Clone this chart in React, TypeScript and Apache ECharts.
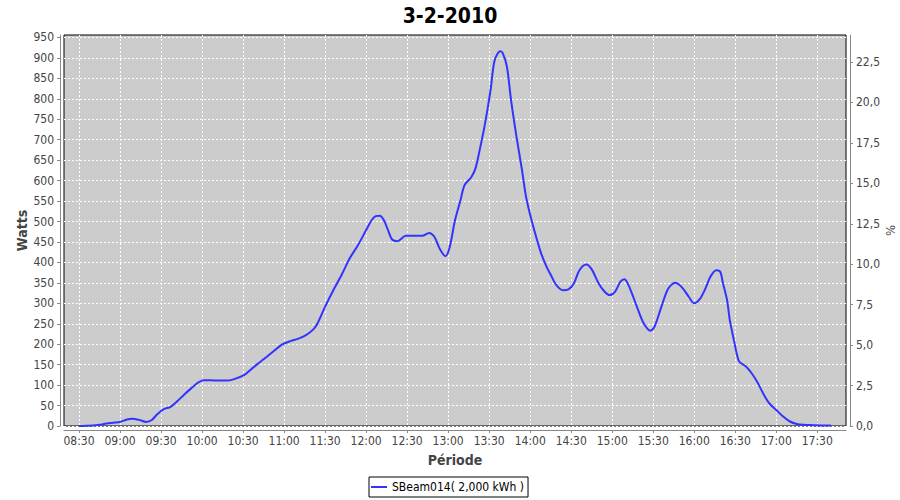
import React, { useEffect, useRef } from 'react';
import * as echarts from 'echarts';

// Time of each reading (HH:MM) and power in watts
const times: string[] = [
  '08:30', '08:35', '08:40', '08:45', '08:50', '08:55', '09:00', '09:05', '09:09', '09:14',
  '09:19', '09:23', '09:27', '09:32', '09:37', '09:42', '09:47', '09:52', '09:57', '10:01',
  '10:06', '10:12', '10:18', '10:23', '10:31', '10:36', '10:40', '10:45', '10:52', '10:59',
  '11:05', '11:10', '11:16', '11:21', '11:24', '11:30', '11:36', '11:42', '11:48', '11:54',
  '12:00', '12:04', '12:07', '12:10', '12:13', '12:16', '12:19', '12:23', '12:29', '12:35',
  '12:41', '12:46', '12:50', '12:54', '12:58', '13:01', '13:05', '13:09', '13:12', '13:17',
  '13:20', '13:23', '13:27', '13:31', '13:34', '13:38', '13:40', '13:43', '13:46', '13:50',
  '13:54', '13:57', '14:01', '14:05', '14:08', '14:12', '14:15', '14:19', '14:24', '14:28',
  '14:32', '14:36', '14:41', '14:45', '14:50', '14:54', '14:58', '15:02', '15:06', '15:09',
  '15:13', '15:18', '15:23', '15:28', '15:31', '15:36', '15:41', '15:46', '15:51', '15:56',
  '16:00', '16:04', '16:08', '16:12', '16:16', '16:19', '16:21', '16:24', '16:26', '16:29',
  '16:31', '16:33', '16:38', '16:42', '16:46', '16:51', '16:55', '17:00', '17:05', '17:10',
  '17:15', '17:20', '17:27', '17:35', '17:40',
];
const watts: number[] = [
  0, 0.5, 1, 3, 6, 8, 10, 16, 18, 15,
  10, 14, 28, 41, 47, 61, 77, 92, 106, 112,
  112, 111, 111, 114, 125, 139, 150, 163, 182, 200,
  208, 213, 222, 235, 248, 292, 332, 369, 410, 442,
  479, 503, 513, 514, 503, 479, 456, 452, 465, 465,
  465, 472, 462, 432, 415, 436, 503, 552, 589, 609,
  630, 674, 740, 821, 894, 916, 911, 878, 797, 707,
  626, 560, 503, 455, 422, 389, 370, 345, 332, 334,
  349, 381, 395, 383, 349, 330, 320, 328, 353, 359,
  336, 292, 251, 233, 243, 292, 336, 350, 339, 316,
  300, 310, 335, 366, 381, 377, 349, 308, 259, 210,
  178, 157, 145, 129, 108, 76, 55, 39, 23, 11,
  5, 3, 2, 1, 1,
];

const timeTicks: string[] = [
  '08:30', '09:00', '09:30', '10:00', '10:30', '11:00', '11:30', '12:00', '12:30', '13:00',
  '13:30', '14:00', '14:30', '15:00', '15:30', '16:00', '16:30', '17:00', '17:30',
];
const wattTicks: number[] = [
  0, 50, 100, 150, 200, 250, 300, 350, 400, 450, 500, 550, 600, 650, 700, 750, 800, 850, 900, 950,
];
const pctTicks: number[] = [0, 2.5, 5, 7.5, 10, 12.5, 15, 17.5, 20, 22.5];

const TITLE = '3-2-2010';
const SERIES_NAME = 'SBeam014( 2,000 kWh )';
const X_MIN = '08:19';
const X_MAX = '17:51';
const WATT_MAX = 956;
const WATTS_PER_PCT = 39.56;

const toMin = (s: string) => {
  const [h, m] = s.split(':').map(Number);
  return h * 60 + m;
};
const fmtMin = (v: number) => {
  const h = Math.floor(v / 60);
  const m = Math.round(v - h * 60);
  return String(h).padStart(2, '0') + ':' + String(m).padStart(2, '0');
};

const FONT = '"DejaVu Sans Condensed", "DejaVu Sans", sans-serif';

export default function App() {
  const ref = useRef<HTMLDivElement>(null);
  useEffect(() => {
    if (!ref.current) return;
    const chart = echarts.init(ref.current, undefined, { renderer: 'svg' });
    const xTickVals = timeTicks.map(toMin);
    const gridDash = { color: '#ffffff', width: 1, type: [2, 2] as any };
    const axisGrey = '#888888';
    chart.setOption({
      animation: false,
      backgroundColor: '#ffffff',
      title: {
        text: TITLE,
        left: 'center',
        top: 0,
        textStyle: { fontFamily: FONT, fontWeight: 'bold', fontSize: 21, color: '#000' },
      },
      grid: {
        left: 64, right: 54, top: 35, bottom: 74,
        show: true, backgroundColor: '#cccccc', borderColor: '#000', borderWidth: 1,
        containLabel: false, outerBoundsMode: 'none',
      },
      legend: {
        left: 369, top: 477,
        padding: [4, 4, 4, 2],
        itemWidth: 16, itemHeight: 2, icon: 'rect',
        borderColor: '#000', borderWidth: 1, backgroundColor: '#fff',
        textStyle: { fontFamily: FONT, fontSize: 12, color: '#000' },
        data: [SERIES_NAME],
      },
      xAxis: {
        type: 'value',
        min: toMin(X_MIN), max: toMin(X_MAX),
        offset: 4,
        name: 'Période', nameLocation: 'middle', nameGap: 23, nameMoveOverlap: false,
        nameTextStyle: { fontFamily: FONT, fontWeight: 'bold', fontSize: 14, color: '#444' },
        axisLine: { show: true, onZero: false, lineStyle: { color: axisGrey } },
        axisTick: { show: true, length: 3, customValues: xTickVals, lineStyle: { color: axisGrey } },
        axisLabel: {
          customValues: xTickVals, formatter: (v: number) => fmtMin(v), margin: 5,
          color: '#444', fontFamily: FONT, fontSize: 12,
        },
        splitLine: { show: true, lineStyle: gridDash },
      },
      yAxis: [
        {
          type: 'value', position: 'left', min: 0, max: WATT_MAX, offset: 4,
          name: 'Watts', nameLocation: 'middle', nameGap: 31, nameMoveOverlap: false,
          nameTextStyle: { fontFamily: FONT, fontWeight: 'bold', fontSize: 14, color: '#444' },
          axisLine: { show: true, lineStyle: { color: axisGrey } },
          axisTick: { show: true, length: 3, customValues: wattTicks, lineStyle: { color: axisGrey } },
          axisLabel: { customValues: wattTicks, margin: 6, color: '#444', fontFamily: FONT, fontSize: 12 },
          splitLine: { show: true, lineStyle: gridDash },
        },
        {
          type: 'value', position: 'right', min: 0, max: WATT_MAX / WATTS_PER_PCT, offset: 4,
          name: '%', nameLocation: 'middle', nameGap: 34, nameMoveOverlap: false,
          nameTextStyle: { fontFamily: FONT, fontWeight: 'normal', fontSize: 13, color: '#444' },
          axisLine: { show: true, lineStyle: { color: axisGrey } },
          axisTick: { show: true, length: 3, customValues: pctTicks, lineStyle: { color: axisGrey } },
          axisLabel: {
            customValues: pctTicks, margin: 6, color: '#444', fontFamily: FONT, fontSize: 12,
            formatter: (v: number) => v.toFixed(1).replace('.', ','),
          },
          splitLine: { show: false },
        },
      ],
      series: [
        {
          type: 'line',
          name: SERIES_NAME,
          yAxisIndex: 0,
          data: times.map((t, i) => [toMin(t), watts[i]]),
          showSymbol: false,
          smooth: 0.3,
          lineStyle: { color: '#3333ff', width: 2 },
          itemStyle: { color: '#3333ff' },
        },
      ],
    });
    return () => chart.dispose();
  }, []);
  return (
    <div
      ref={ref}
      style={{ position: 'fixed', left: 0, top: 0, width: 900, height: 500, background: '#fff' }}
    />
  );
}
